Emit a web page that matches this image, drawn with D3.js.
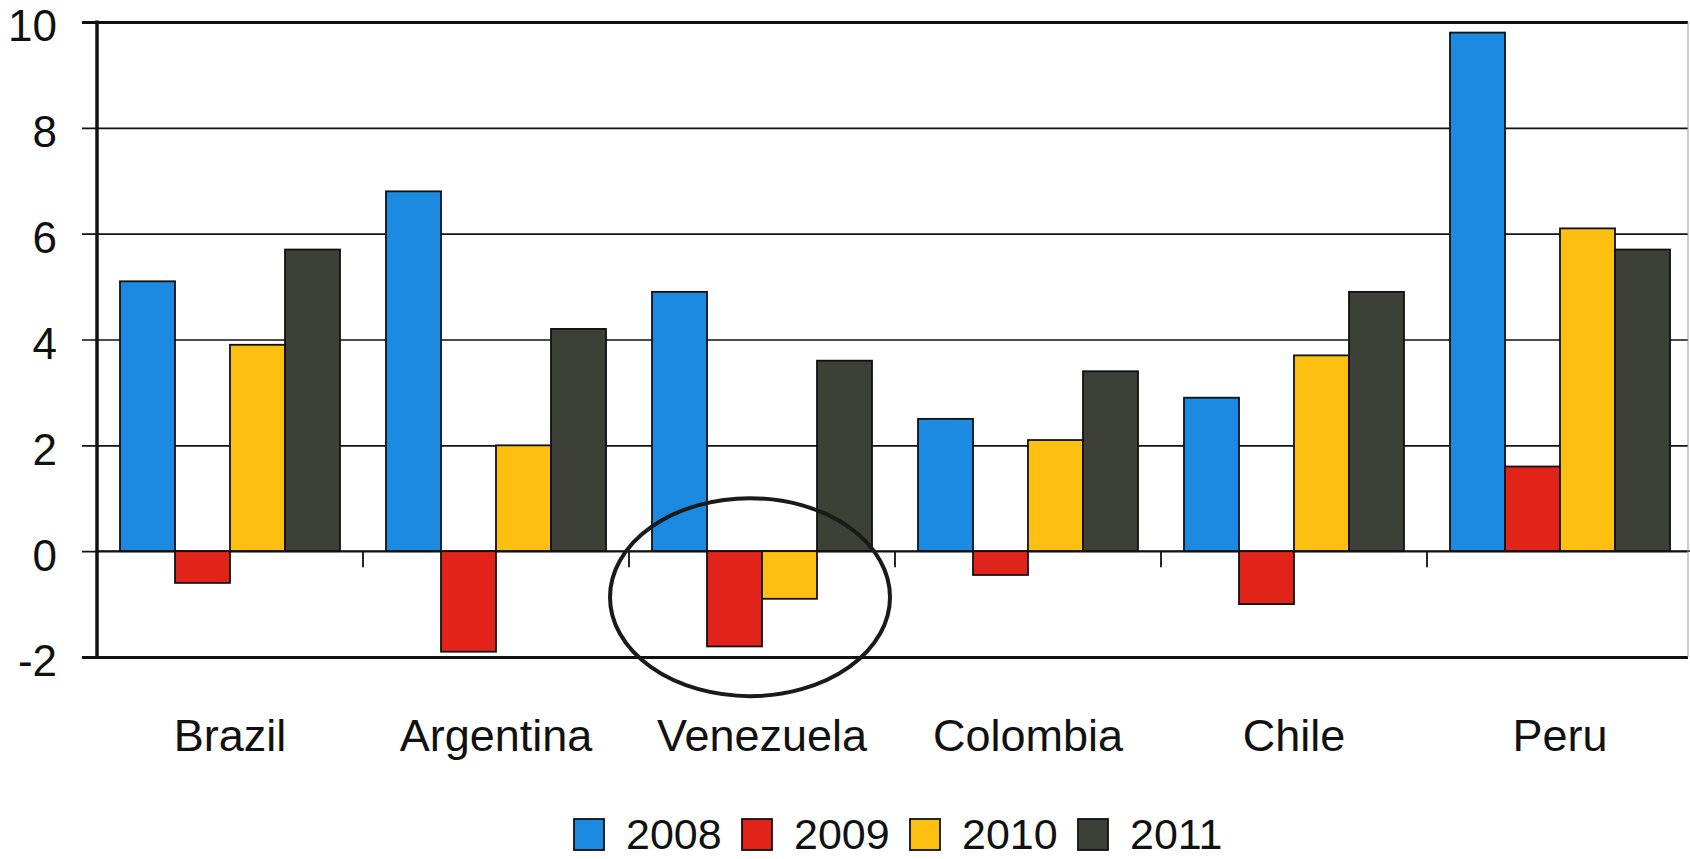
<!DOCTYPE html>
<html>
<head>
<meta charset="utf-8">
<script src="https://cdn.jsdelivr.net/npm/d3@7/dist/d3.min.js"></script>
<style>
  html, body { margin: 0; padding: 0; background: #ffffff; }
  svg { display: block; }
  text { font-family: "Liberation Sans", Arial, sans-serif; fill: #111; }
</style>
</head>
<body>
<svg id="chart" width="1690" height="859"></svg>
<script>
// Real GDP growth by country and year (%)
const countries = ["Brazil", "Argentina", "Venezuela", "Colombia", "Chile", "Peru"];
const years = ["2008", "2009", "2010", "2011"];
const growth2008 = [5.1, 6.8, 4.9, 2.5, 2.9, 9.8];
const growth2009 = [-0.6, -1.9, -1.8, -0.45, -1.0, 1.6];
const growth2010 = [3.9, 2.0, -0.9, 2.1, 3.7, 6.1];
const growth2011 = [5.7, 4.2, 3.6, 3.4, 4.9, 5.7];
const yTicks = [-2, 0, 2, 4, 6, 8, 10];
const yTickLabels = ["-2", "0", "2", "4", "6", "8", "10"];
const seriesColors = ["#1c8ae0", "#e2231a", "#fdc010", "#3c4036"];
// Annotation: the ellipse drawn around Venezuela's contraction years
const highlightCountry = "Venezuela";
const highlightValue = -0.85;

(function draw() {
  const seriesValues = [growth2008, growth2009, growth2010, growth2011];
  const rows = countries.map((c, i) => ({
    country: c,
    values: years.map((yr, j) => ({ year: yr, value: seriesValues[j][i] }))
  }));

  const svg = d3.select("#chart");
  const plotLeft = 97, plotRight = 1693, plotTop = 22, plotBottom = 657;

  const x0 = d3.scaleBand().domain(countries).range([plotLeft, plotRight]).padding(0);
  const x1 = d3.scaleBand().domain(years).range([23, x0.bandwidth() - 23]).padding(0);
  const y = d3.scaleLinear().domain([-2, 10]).range([plotBottom, plotTop]);
  const color = d3.scaleOrdinal().domain(years).range(seriesColors);

  // Horizontal gridlines with the short ticks to the left of the axis
  const yAxis = d3.axisLeft(y)
    .tickValues(yTicks)
    .tickSize(-(1690 - plotLeft - 2))
    .tickFormat(d => yTickLabels[yTicks.indexOf(d)]);
  const gy = svg.append("g").attr("transform", `translate(${plotLeft},0)`).call(yAxis);
  gy.select(".domain").remove();
  gy.selectAll(".tick line")
    .attr("x1", -15)
    .attr("stroke", "#111")
    .attr("stroke-width", d => (d === 10 || d === -2) ? 3 : 1.6);
  gy.selectAll(".tick text")
    .attr("x", -40)
    .attr("dy", "0.43em")
    .style("font-size", "44px")
    .style("font-family", "'Liberation Sans', Arial, sans-serif")
    .attr("fill", "#111");

  // Bars
  const groups = svg.append("g").selectAll("g")
    .data(rows)
    .join("g")
    .attr("transform", d => `translate(${x0(d.country)},0)`);

  groups.selectAll("rect")
    .data(d => d.values)
    .join("rect")
    .attr("x", d => x1(d.year))
    .attr("width", x1.bandwidth())
    .attr("y", d => y(Math.max(0, d.value)))
    .attr("height", d => Math.abs(y(d.value) - y(0)))
    .attr("fill", d => color(d.year))
    .attr("stroke", "#111")
    .attr("stroke-width", 1.8);

  // Zero line with category separators below it
  const xAxis = d3.axisBottom(x0).tickSize(0).tickFormat("");
  const gx = svg.append("g").attr("transform", `translate(0,${y(0)})`).call(xAxis);
  gx.select(".domain").attr("stroke", "#111").attr("stroke-width", 1.6).attr("d", `M${plotLeft},0H1690`);
  gx.selectAll(".tick").remove();
  gx.selectAll(".sep")
    .data(countries.slice(1))
    .join("line")
    .attr("class", "sep")
    .attr("x1", d => x0(d)).attr("x2", d => x0(d))
    .attr("y1", 0).attr("y2", 16)
    .attr("stroke", "#111").attr("stroke-width", 1.8);

  // Category labels
  svg.append("g").selectAll("text")
    .data(countries)
    .join("text")
    .attr("x", d => x0(d) + x0.bandwidth() / 2)
    .attr("y", 751)
    .attr("text-anchor", "middle")
    .style("font-size", "45px")
    .text(d => d);

  // Vertical axis and right frame edge
  svg.append("line")
    .attr("x1", plotLeft).attr("x2", plotLeft)
    .attr("y1", y(10) - 1.5).attr("y2", y(-2) + 1.5)
    .attr("stroke", "#111").attr("stroke-width", 3.5);
  svg.append("line")
    .attr("x1", 1688).attr("x2", 1688)
    .attr("y1", y(10)).attr("y2", y(-2))
    .attr("stroke", "#999").attr("stroke-width", 1);

  // Highlight ellipse
  svg.append("ellipse")
    .attr("cx", x0(highlightCountry) + x0.bandwidth() / 2 - 12)
    .attr("cy", y(highlightValue) + 1)
    .attr("rx", 140)
    .attr("ry", 99)
    .attr("fill", "none")
    .attr("stroke", "#1a1a1a")
    .attr("stroke-width", 4);

  // Legend
  const legend = svg.append("g").attr("transform", "translate(574,819)");
  const item = legend.selectAll("g")
    .data(years)
    .join("g")
    .attr("transform", (d, i) => `translate(${i * 168},0)`);
  item.append("rect")
    .attr("width", 30).attr("height", 31)
    .attr("fill", d => color(d))
    .attr("stroke", "#111").attr("stroke-width", 1.8);
  item.append("text")
    .attr("x", 52)
    .attr("y", 30)
    .style("font-size", "43px")
    .text(d => d);
})();
</script>
</body>
</html>
